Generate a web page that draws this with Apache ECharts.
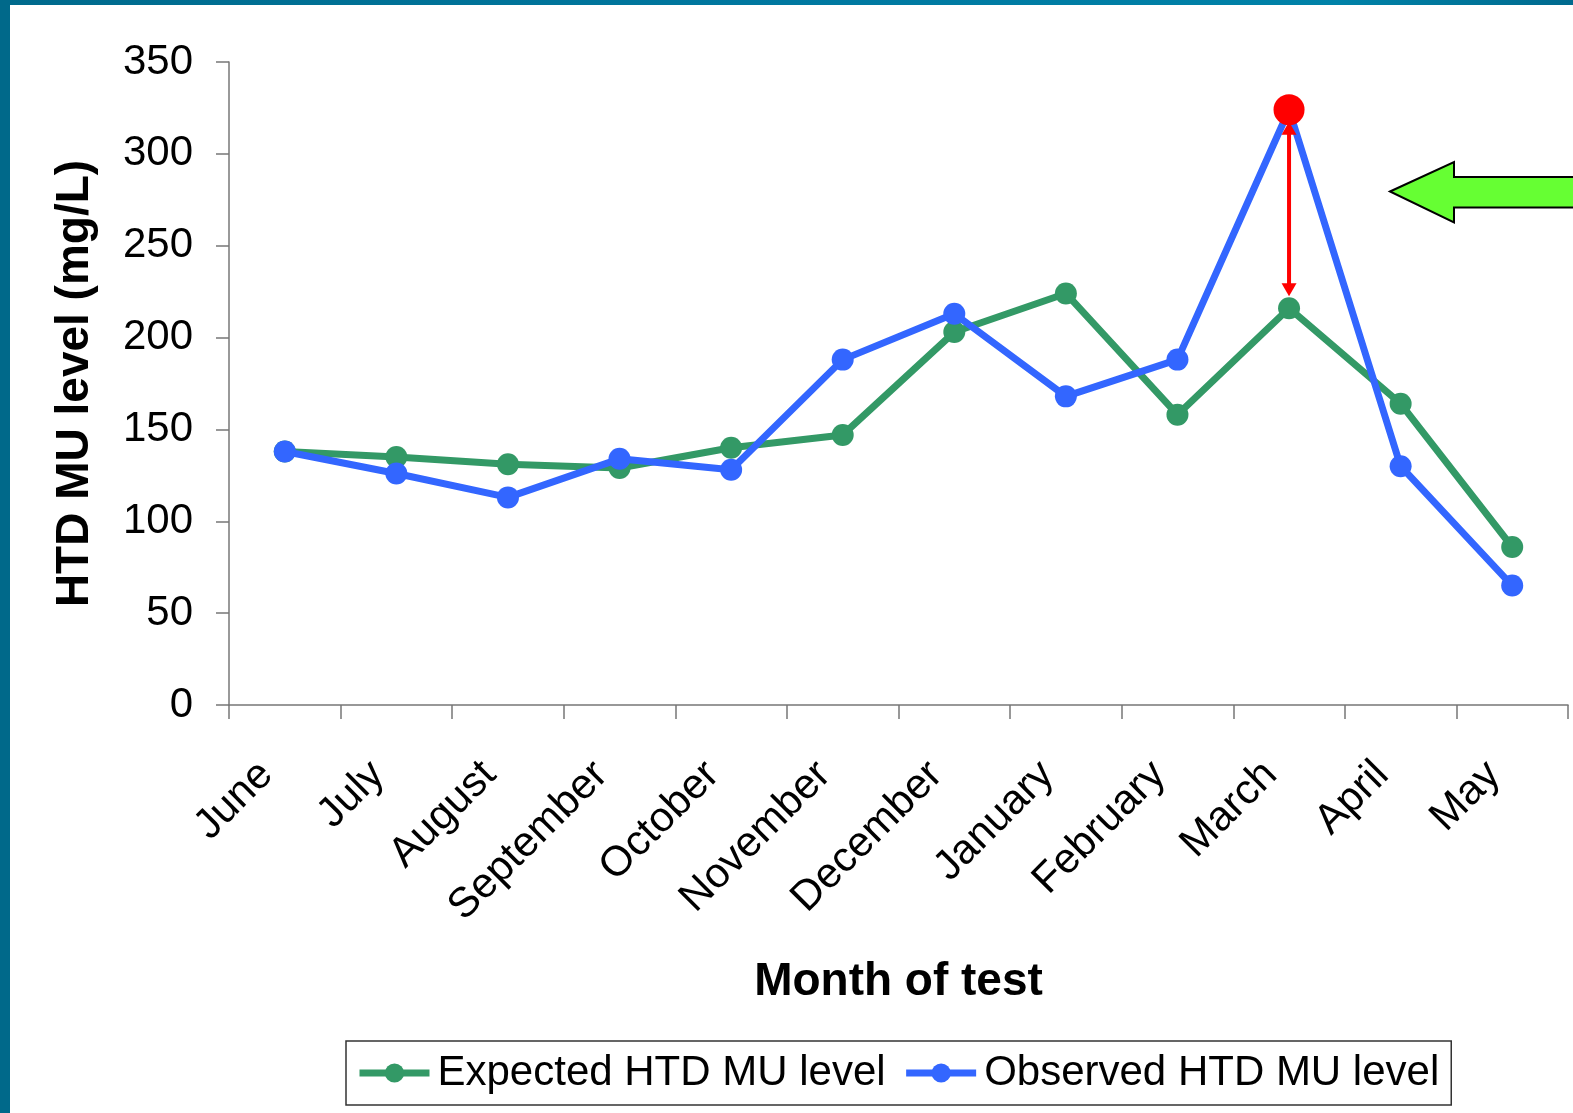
<!DOCTYPE html>
<html>
<head>
<meta charset="utf-8">
<script src="https://cdn.jsdelivr.net/npm/echarts@6/dist/echarts.min.js"></script>
<style>
  html, body { margin: 0; padding: 0; background: #ffffff; }
  #wrap { position: relative; width: 1573px; height: 1113px; overflow: hidden; background: #ffffff; }
  #frameTop { position: absolute; left: 0; top: 0; width: 1573px; height: 5px;
    background: linear-gradient(90deg, #006a8c 0%, #0078a0 50%, #0082a8 85%, #006a8e 100%); }
  #frameLeft { position: absolute; left: 0; top: 0; width: 10px; height: 1113px; background: #00698a; }
  #chart { position: absolute; left: 0; top: 0; width: 1573px; height: 1113px; }
</style>
</head>
<body>
<div id="wrap">
  <div id="chart"></div>
  <div id="frameTop"></div>
  <div id="frameLeft"></div>
</div>
<script>
// Monthly HTD MU levels (mg/L)
const months = ['June', 'July', 'August', 'September', 'October', 'November',
                'December', 'January', 'February', 'March', 'April', 'May'];
const expected = [138, 135, 131, 129, 140, 147, 203, 224, 158, 216, 164, 86];
const observed = [138, 126, 113, 134, 128, 188, 213, 168, 188, 324, 130, 65];
const yTicks = { min: 0, max: 350, step: 50 };
const highlightMonth = 'March';

const FONT = '"Liberation Sans", Arial, sans-serif';
const GREEN = '#339966';
const BLUE = '#3366FF';
const RED = '#FF0000';
const hi = months.indexOf(highlightMonth);

const chart = echarts.init(document.getElementById('chart'), null, { renderer: 'canvas' });

const option = {
  animation: false,
  backgroundColor: 'transparent',
  grid: { left: 229, right: 5, top: 62, bottom: 408, containLabel: false },
  xAxis: {
    type: 'category',
    data: months,
    boundaryGap: true,
    name: 'Month of test',
    nameLocation: 'middle',
    nameGap: 254,
    nameTextStyle: { fontFamily: FONT, fontSize: 46, fontWeight: 'bold', color: '#000' },
    axisLine: { lineStyle: { color: '#777', width: 1.5 } },
    axisTick: { show: true, interval: 0, length: 14, lineStyle: { color: '#777', width: 1.5 } },
    axisLabel: {
      interval: 0, rotate: 45, margin: 45,
      padding: [0, 26, 0, 0],
      fontFamily: FONT, fontSize: 42, color: '#000'
    },
    splitLine: { show: false }
  },
  yAxis: {
    type: 'value',
    min: yTicks.min, max: yTicks.max, interval: yTicks.step,
    name: 'HTD MU level (mg/L)',
    nameLocation: 'middle',
    nameGap: 131,
    nameTextStyle: { fontFamily: FONT, fontSize: 46, fontWeight: 'bold', color: '#000' },
    axisLine: { show: true, lineStyle: { color: '#777', width: 1.5 } },
    axisTick: { show: true, length: 13, lineStyle: { color: '#777', width: 1.5 } },
    axisLabel: { margin: 36, fontFamily: FONT, fontSize: 42, color: '#000' },
    splitLine: { show: false }
  },
  legend: {
    left: 346, top: 1041,
    orient: 'horizontal',
    itemWidth: 70, itemHeight: 24, itemGap: 17,
    padding: [8, 12, 8, 10],
    borderColor: '#333', borderWidth: 1.5,
    lineStyle: { width: 7 },
    textStyle: { fontFamily: FONT, fontSize: 42, color: '#000', lineHeight: 48, padding: [0, 0, 0, 3] },
    data: ['Expected HTD MU level', 'Observed HTD MU level']
  },
  series: [
    {
      name: 'Expected HTD MU level',
      type: 'line',
      data: expected,
      symbol: 'circle', symbolSize: 22,
      lineStyle: { color: GREEN, width: 7 },
      itemStyle: { color: GREEN },
      z: 2
    },
    {
      name: 'Observed HTD MU level',
      type: 'line',
      data: observed,
      symbol: 'circle', symbolSize: 22,
      lineStyle: { color: BLUE, width: 7 },
      itemStyle: { color: BLUE },
      z: 3,
      markPoint: {
        symbol: 'circle', symbolSize: 31,
        label: { show: false },
        itemStyle: { color: RED },
        data: [{ coord: [highlightMonth, observed[hi]] }]
      }
    }
  ]
};
chart.setOption(option);

// Red double arrow between the observed and expected March values,
// plus the green call-out arrow at the right edge.
function drawAnnotations() {
  const top = chart.convertToPixel({ gridIndex: 0 }, [hi, observed[hi]]);
  const bot = chart.convertToPixel({ gridIndex: 0 }, [hi, expected[hi]]);
  const x = top[0];
  const y1 = top[1] + 12;   // just under the red dot
  const y2 = bot[1] - 12;   // just above the green dot
  const hw = 7.5, hh = 13;
  chart.setOption({
    graphic: [
      {
        type: 'line', z: 50,
        shape: { x1: x, y1: y1 + hh - 2, x2: x, y2: y2 - hh + 2 },
        style: { stroke: RED, lineWidth: 4 }
      },
      {
        type: 'polygon', z: 50,
        shape: { points: [[x, y2], [x - hw, y2 - hh], [x + hw, y2 - hh]] },
        style: { fill: RED }
      },
      {
        type: 'polygon', z: 50,
        shape: { points: [[x, y1], [x - hw, y1 + hh], [x + hw, y1 + hh]] },
        style: { fill: RED }
      },
      {
        type: 'polygon', z: 60,
        shape: { points: [[1390, 191.5], [1454, 162], [1454, 177], [1580, 177],
                          [1580, 207.5], [1454, 207.5], [1454, 222.5]] },
        style: { fill: '#66FF33', stroke: '#000', lineWidth: 2 }
      }
    ]
  });
}
drawAnnotations();
</script>
</body>
</html>
